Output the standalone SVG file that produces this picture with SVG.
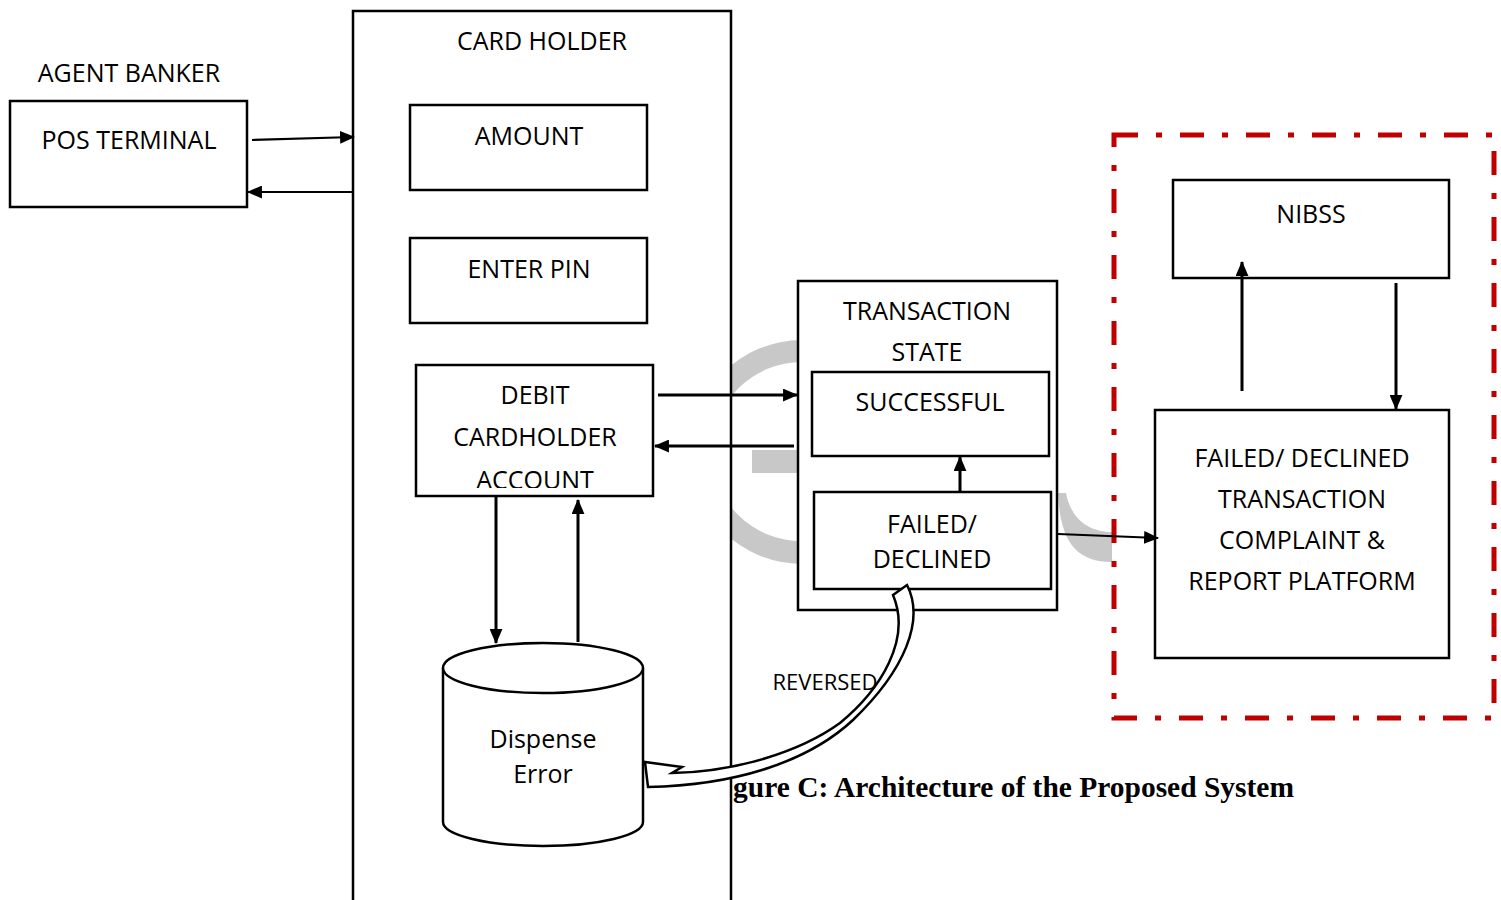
<svg xmlns="http://www.w3.org/2000/svg" width="1501" height="900" viewBox="0 0 1501 900">
  <defs>
    <style>
      .box { fill: #fff; stroke: #000; stroke-width: 2.5; }
      .lbl { font-family: "Open Sans", "Noto Sans", "Liberation Sans", sans-serif; font-size: 25px; fill: #000; text-anchor: middle; }
      .wire { fill: none; stroke: #000; stroke-width: 3; }
      .thin { fill: none; stroke: #000; stroke-width: 2.2; }
      .mark { fill: #c8c8c8; }
    </style>
    <marker id="head" viewBox="0 0 14 12" refX="13" refY="6" markerWidth="15" markerHeight="13" markerUnits="userSpaceOnUse" orient="auto">
      <path d="M0,0 L14,6 L0,12 Z" fill="#000"/>
    </marker>
    <clipPath id="debitClip">
      <rect x="416" y="365" width="237" height="123"/>
    </clipPath>
  </defs>

  <rect width="1501" height="900" fill="#fff"/>

  <!-- faint background watermark, mostly covered by the boxes -->
  <g id="watermark">
    <path class="mark" d="M690,452 A112,112 0 0 1 802,340 L802,362 A90,90 0 0 0 712,452 Z"/>
    <path class="mark" d="M690,452 A112,112 0 0 0 802,564 L802,541 A89,89 0 0 1 712,452 Z"/>
    <rect class="mark" x="752" y="450" width="50" height="23"/>
    <path class="mark" d="M1058,493 C1060,540 1075,562 1112,562 L1112,532 C1085,532 1070,515 1066,493 Z"/>
  </g>

  <!-- agent side -->
  <g id="agent-banker">
    <text class="lbl" x="129" y="82">AGENT BANKER</text>
  </g>
  <g id="pos-terminal">
    <rect class="box" x="10" y="101" width="237" height="106"/>
    <text class="lbl" x="129" y="149">POS TERMINAL</text>
  </g>

  <!-- card holder column -->
  <g id="card-holder">
    <rect class="box" x="353" y="11" width="378" height="950"/>
    <text class="lbl" x="542" y="50">CARD HOLDER</text>
  </g>
  <g id="amount">
    <rect class="box" x="410" y="105" width="237" height="85"/>
    <text class="lbl" x="529" y="145">AMOUNT</text>
  </g>
  <g id="enter-pin">
    <rect class="box" x="410" y="238" width="237" height="85"/>
    <text class="lbl" x="529" y="278">ENTER PIN</text>
  </g>
  <g id="debit-account">
    <rect class="box" x="416" y="365" width="237" height="131"/>
    <g clip-path="url(#debitClip)">
      <text class="lbl" x="535" y="404">DEBIT</text>
      <text class="lbl" x="535" y="446">CARDHOLDER</text>
      <text class="lbl" x="535" y="489">ACCOUNT</text>
    </g>
  </g>
  <g id="dispense-error">
    <path class="box" d="M443,668 L443,822 A100,24 0 0 0 643,822 L643,668"/>
    <ellipse class="box" cx="543" cy="668" rx="100" ry="25"/>
    <text class="lbl" x="543" y="748">Dispense</text>
    <text class="lbl" x="543" y="783">Error</text>
  </g>

  <!-- transaction state -->
  <g id="transaction-state">
    <rect class="box" x="798" y="281" width="259" height="329"/>
    <text class="lbl" x="927" y="320">TRANSACTION</text>
    <text class="lbl" x="927" y="361">STATE</text>
  </g>
  <g id="successful">
    <rect class="box" x="812" y="372" width="237" height="84"/>
    <text class="lbl" x="930" y="411">SUCCESSFUL</text>
  </g>
  <g id="failed-declined">
    <rect class="box" x="814" y="492" width="237" height="97"/>
    <text class="lbl" x="932" y="533">FAILED/</text>
    <text class="lbl" x="932" y="568">DECLINED</text>
  </g>

  <!-- complaint platform zone -->
  <g id="platform-zone">
    <rect x="1114" y="135" width="380" height="583" fill="#fff" stroke="#c00000" stroke-width="5" stroke-dasharray="24 18 6 18"/>
  </g>
  <g id="nibss">
    <rect class="box" x="1173" y="180" width="276" height="98"/>
    <text class="lbl" x="1311" y="223">NIBSS</text>
  </g>
  <g id="complaint-platform">
    <rect class="box" x="1155" y="410" width="294" height="248"/>
    <text class="lbl" x="1302" y="467">FAILED/ DECLINED</text>
    <text class="lbl" x="1302" y="508">TRANSACTION</text>
    <text class="lbl" x="1302" y="549">COMPLAINT &amp;</text>
    <text class="lbl" x="1302" y="590">REPORT PLATFORM</text>
  </g>

  <!-- connectors -->
  <g id="connectors">
    <line class="thin" x1="252" y1="140" x2="354" y2="137" marker-end="url(#head)"/>
    <line class="thin" x1="353" y1="192" x2="248" y2="192" marker-end="url(#head)"/>
    <line class="wire" x1="658" y1="395" x2="797" y2="395" marker-end="url(#head)"/>
    <line class="wire" x1="794" y1="446" x2="655" y2="446" marker-end="url(#head)"/>
    <line class="wire" x1="496" y1="496" x2="496" y2="643" marker-end="url(#head)"/>
    <line class="wire" x1="578" y1="642" x2="578" y2="500" marker-end="url(#head)"/>
    <line class="wire" x1="960" y1="492" x2="960" y2="457" marker-end="url(#head)"/>
    <line class="thin" x1="1058" y1="534" x2="1158" y2="538" marker-end="url(#head)"/>
    <line class="wire" x1="1242" y1="391" x2="1242" y2="262" marker-end="url(#head)"/>
    <line class="wire" x1="1396" y1="283" x2="1396" y2="409" marker-end="url(#head)"/>
    <!-- hollow curved "reversed" arrow -->
    <path d="M893,595 L907,585 C925,620 905,670 853,720 C810,760 740,785 648,787 L645,762 L682,767 L672,773 C735,772 800,752 840,723 C880,690 912,640 893,595 Z" fill="#fff" stroke="#000" stroke-width="2.5" stroke-linejoin="miter"/>
    <text x="825" y="690" font-family="'Open Sans', 'Noto Sans', sans-serif" font-size="22" text-anchor="middle">REVERSED</text>
  </g>

  <!-- caption -->
  <text x="733" y="797" font-family="'Liberation Serif', 'Times New Roman', serif" font-weight="bold" font-size="29" textLength="561" lengthAdjust="spacingAndGlyphs">gure C: Architecture of the Proposed System</text>
</svg>
